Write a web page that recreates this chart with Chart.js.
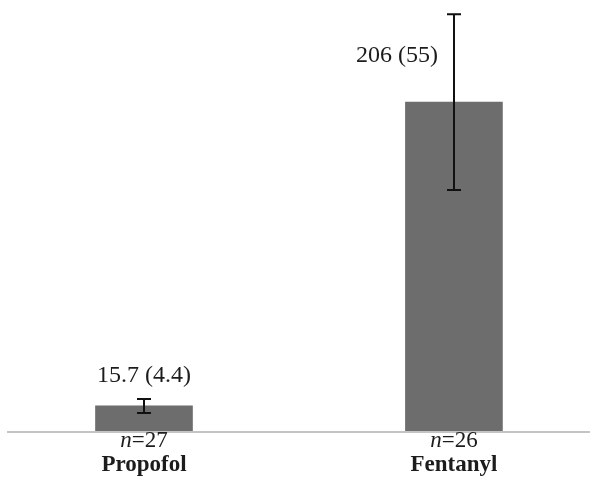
<!DOCTYPE html>
<html>
<head>
<meta charset="utf-8">
<script src="https://cdn.jsdelivr.net/npm/chart.js@4.4.1/dist/chart.umd.min.js"></script>
<style>
  html, body { margin: 0; padding: 0; background: #fff; }
  #wrap { width: 596px; height: 481px; }
</style>
</head>
<body>
<div id="wrap"><canvas id="chartDosis"></canvas></div>
<script>
const grupos = ['Propofol', 'Fentanyl']
const medias = [15.7, 206]
const desvios = [4.4, 55]
const muestras = [27, 26]
const etiquetas = ['15.7 (4.4)', '206 (55)']
const posEtiqueta = ['arriba', 'izquierda']

const serif = '"Liberation Serif", "DejaVu Serif", serif'

// barras de error, etiquetas y linea base
const extras = {
    id: 'extras',
    afterDatasetsDraw(chart) {
        const { ctx, chartArea, scales: { x, y } } = chart
        ctx.save()

        ctx.strokeStyle = '#c4c4c4'
        ctx.lineWidth = 2
        ctx.beginPath()
        ctx.moveTo(chartArea.left, y.getPixelForValue(0) + 1)
        ctx.lineTo(chartArea.right, y.getPixelForValue(0) + 1)
        ctx.stroke()

        grupos.forEach((g, i) => {
            const cx = Math.round(x.getPixelForValue(i + 1))
            const yTop = y.getPixelForValue(medias[i] + desvios[i])
            const yBot = y.getPixelForValue(medias[i] - desvios[i])

            ctx.strokeStyle = '#111'
            ctx.lineWidth = 2
            ctx.beginPath()
            ctx.moveTo(cx, yTop); ctx.lineTo(cx, yBot)
            ctx.moveTo(cx - 7, yTop); ctx.lineTo(cx + 7, yTop)
            ctx.moveTo(cx - 7, yBot); ctx.lineTo(cx + 7, yBot)
            ctx.stroke()

            ctx.fillStyle = '#1c1c1c'
            ctx.font = `24px ${serif}`
            ctx.textBaseline = 'alphabetic'
            if (posEtiqueta[i] === 'arriba') {
                ctx.textAlign = 'center'
                ctx.fillText(etiquetas[i], cx, yTop - 17)
            } else {
                ctx.textAlign = 'right'
                ctx.fillText(etiquetas[i], cx - 16, y.getPixelForValue(medias[i]) - 40)
            }

            // n=xx con la n en cursiva
            const base = y.getPixelForValue(0)
            ctx.font = `italic 23px ${serif}`
            const wN = ctx.measureText('n').width
            ctx.font = `23px ${serif}`
            const resto = '=' + muestras[i]
            const wR = ctx.measureText(resto).width
            const x0 = cx - (wN + wR) / 2
            ctx.textAlign = 'left'
            ctx.font = `italic 23px ${serif}`
            ctx.fillText('n', x0, base + 16)
            ctx.font = `23px ${serif}`
            ctx.fillText(resto, x0 + wN, base + 16)

            ctx.font = `bold 23px ${serif}`
            ctx.textAlign = 'center'
            ctx.fillText(g, cx, base + 40)
        })
        ctx.restore()
    }
}

const chartDosis = new Chart(document.getElementById('chartDosis'), {
    type: 'bar',
    data: {
        datasets: [{
            data: grupos.map((g, i) => ({ x: i + 1, y: medias[i] })),
            backgroundColor: '#6d6d6d',
            barThickness: 97
        }]
    },
    options: {
        responsive: true,
        maintainAspectRatio: false,
        animation: false,
        layout: { padding: { left: 7, right: 6, top: 0, bottom: 50 } },
        plugins: { legend: { display: false }, tooltip: { enabled: false } },
        scales: {
            x: { type: 'linear', min: 0.558, max: 2.439, offset: false, display: false },
            y: { min: 0, max: 270, display: false }
        }
    },
    plugins: [extras]
})
</script>
</body>
</html>
